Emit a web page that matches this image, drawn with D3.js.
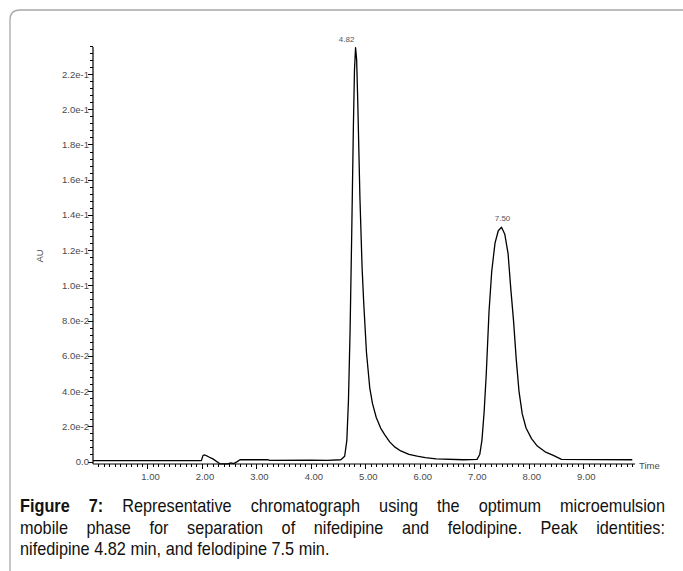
<!DOCTYPE html>
<html><head><meta charset="utf-8">
<script src="https://cdn.jsdelivr.net/npm/d3@7"></script>
<style>
html,body{margin:0;padding:0;background:#fff;width:683px;height:571px;overflow:hidden;}
#cap{position:absolute;left:20px;top:495px;width:753px;transform:scaleX(0.8565);transform-origin:0 0;font-family:"Liberation Sans",Arial,sans-serif;font-size:19px;line-height:21.5px;color:#111;}
#cap div{text-align:justify;text-align-last:justify;white-space:nowrap;}
#cap div.last{text-align-last:left;}
</style></head>
<body>
<svg id="chart" width="683" height="571" style="position:absolute;left:0;top:0"></svg>
<div id="cap"></div>
<script>
// ---- data ----
const times = [0.00,1.99,2.02,2.05,2.10,2.20,2.33,2.40,2.48,2.53,2.58,2.64,2.70,3.20,3.25,4.00,4.30,4.55,4.62,4.66,4.69,4.72,4.75,4.78,4.80,4.82,4.84,4.86,4.90,4.94,4.97,5.02,5.08,5.13,5.20,5.28,5.36,5.45,5.55,5.65,5.80,5.95,6.10,6.30,6.80,7.05,7.10,7.14,7.18,7.22,7.27,7.32,7.38,7.44,7.50,7.56,7.62,7.67,7.72,7.77,7.82,7.88,7.95,8.05,8.15,8.30,8.45,8.60,9.90];
const au    = [0.0005,0.0005,0.0035,0.0037,0.003,0.0015,-0.0013,-0.0014,-0.0014,-0.0008,-0.0012,-0.0002,0.0010,0.0010,0.0006,0.0008,0.0006,0.0010,0.003,0.012,0.035,0.075,0.130,0.190,0.222,0.235,0.228,0.205,0.150,0.110,0.090,0.062,0.042,0.033,0.025,0.019,0.015,0.011,0.008,0.006,0.004,0.003,0.0022,0.0015,0.0010,0.0012,0.004,0.012,0.028,0.050,0.085,0.108,0.124,0.131,0.133,0.129,0.118,0.098,0.080,0.058,0.040,0.027,0.019,0.013,0.009,0.0055,0.0035,0.0012,0.0010];
const yTickValues = [0,0.02,0.04,0.06,0.08,0.10,0.12,0.14,0.16,0.18,0.20,0.22];
const yTickLabels = ["0.0","2.0e-2","4.0e-2","6.0e-2","8.0e-2","1.0e-1","1.2e-1","1.4e-1","1.6e-1","1.8e-1","2.0e-1","2.2e-1"];
const xTickValues = [1,2,3,4,5,6,7,8,9];
const xTickLabels = ["1.00","2.00","3.00","4.00","5.00","6.00","7.00","8.00","9.00"];
const peakTimes = [4.82,7.50];
const peakHeights = [0.235,0.133];
const peakLabels = ["4.82","7.50"];
const captionLines = [
  ["Figure 7:","Representative chromatograph using the optimum microemulsion"],
  ["","mobile phase for separation of nifedipine and felodipine. Peak identities:"],
  ["","nifedipine 4.82 min, and felodipine 7.5 min."]
];

const svg = d3.select("#chart");
// frame
svg.append("path").attr("d","M10,571 L10,20 Q10,10 20,10 L683,10")
  .attr("fill","none").attr("stroke","#a8a8a8").attr("stroke-width",1.3);

const x = d3.scaleLinear().domain([0,9.95]).range([93,635]);
const y = d3.scaleLinear().domain([0,0.22]).range([461.5,74]);
const axisY = 464;
const font = "'Liberation Sans',Arial,sans-serif";
const tickFill = "#4a4a4a";

// y axis
const g = svg.append("g");
g.append("line").attr("x1",93).attr("x2",93).attr("y1",47).attr("y2",axisY).attr("stroke","#000").attr("stroke-width",1.2);
const yMinor = d3.range(0,0.2361,0.004);
g.selectAll(".ym").data(yMinor).join("line")
  .attr("x1",90).attr("x2",93).attr("y1",d=>Math.round(y(d))+0.5).attr("y2",d=>Math.round(y(d))+0.5)
  .attr("stroke","#000").attr("stroke-width",1);
g.selectAll(".yM").data(yTickValues).join("line")
  .attr("x1",88).attr("x2",93).attr("y1",d=>Math.round(y(d))+0.5).attr("y2",d=>Math.round(y(d))+0.5)
  .attr("stroke","#000").attr("stroke-width",1);
g.selectAll(".yl").data(yTickValues).join("text")
  .attr("x",89).attr("y",d=>y(d)+3.5).attr("text-anchor","end")
  .attr("font-family",font).attr("font-size",9.5).attr("fill",tickFill)
  .text((d,i)=>yTickLabels[i]);
g.append("text").attr("transform","translate(43,256) rotate(-90)").attr("text-anchor","middle")
  .attr("font-family",font).attr("font-size",9.5).attr("fill",tickFill).text("AU");

// x axis
g.append("line").attr("x1",93).attr("x2",635).attr("y1",axisY).attr("y2",axisY).attr("stroke","#000").attr("stroke-width",1.2);
const xMinor = d3.range(0.1,9.951,0.1);
g.selectAll(".xm").data(xMinor).join("line")
  .attr("x1",d=>Math.round(x(d))+0.5).attr("x2",d=>Math.round(x(d))+0.5).attr("y1",axisY).attr("y2",axisY+3)
  .attr("stroke","#000").attr("stroke-width",1);
g.selectAll(".xM").data(xTickValues).join("line")
  .attr("x1",d=>Math.round(x(d))+0.5).attr("x2",d=>Math.round(x(d))+0.5).attr("y1",axisY).attr("y2",axisY+5)
  .attr("stroke","#000").attr("stroke-width",1);
g.selectAll(".xl").data(xTickValues).join("text")
  .attr("x",d=>x(d)+3).attr("y",480).attr("text-anchor","middle")
  .attr("font-family",font).attr("font-size",9.5).attr("fill",tickFill)
  .text((d,i)=>xTickLabels[i]);
g.append("text").attr("x",639).attr("y",469).attr("font-family",font).attr("font-size",9.5).attr("fill",tickFill).text("Time");

// trace
const pts = times.map((t,i)=>[t,au[i]]);
svg.append("path").datum(pts)
  .attr("d",d3.line().x(d=>x(d[0])).y(d=>y(d[1])))
  .attr("fill","none").attr("stroke","#000").attr("stroke-width",1.3).attr("stroke-linejoin","round");

// peak labels
svg.selectAll(".pl").data(peakTimes).join("text")
  .attr("x",(d,i)=>x(d)+(i===0?-9:1)).attr("y",(d,i)=>y(peakHeights[i])-6)
  .attr("text-anchor","middle").attr("font-family",font).attr("font-size",8).attr("fill","#555")
  .text((d,i)=>peakLabels[i]);

// caption
const cap = d3.select("#cap");
captionLines.forEach((l,i)=>{
  const div = cap.append("div").attr("class", i===captionLines.length-1?"last":null);
  if(l[0]) { div.append("b").text(l[0]); div.append("span").text(" "+l[1]); }
  else div.append("span").text(l[1]);
});
</script>
</body></html>
